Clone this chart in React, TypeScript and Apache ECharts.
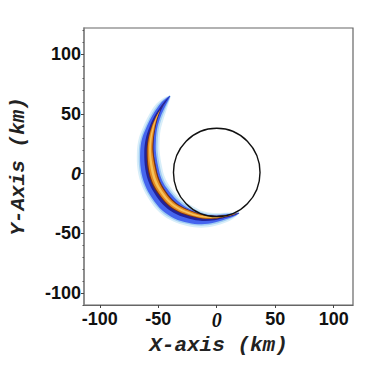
import React, { useEffect, useRef } from "react";
import * as echarts from "echarts";

// axis ticks (km)
const xTicks = [-100, -50, 0, 50, 100];
const yTicks = [-100, -50, 0, 50, 100];
const yMinorTicks = [-110, -90, -80, -70, -60, -40, -30, -20, -10, 10, 20, 30, 40, 60, 70, 80, 90, 110, 120];
const xRange = [-113.5, 116.5];
const yRange = [-110, 122];

// crescent centre line (km) and half-widths (km)
const arcX = [-40, -44, -48, -51.5, -54.5, -56.5, -57, -55.5, -52.5, -47.5, -40, -32, -22, -12, -2, 7, 13, 19];
const arcY = [65, 60, 54, 47, 38, 28, 18, 5, -6, -15, -24, -29.5, -33.5, -36, -36.5, -35.5, -34.5, -33];
const outerW = [0.3, 2, 3, 4, 5.5, 7.5, 8.5, 9.5, 9.5, 9.5, 9.5, 9, 8, 6.5, 4.5, 2.8, 1.8, 0.3];
const innerW = [0.3, 1.6, 2.5, 3, 3.5, 4.5, 5, 5.5, 5.5, 5.5, 5.5, 4.5, 3.2, 2.2, 1.7, 1.4, 1, 0.3];
const coreW = [0, 0, 0, 0.6, 1.3, 1.8, 2.1, 2.6, 2.6, 2.4, 2.2, 2, 1.7, 1.3, 0.9, 0.5, 0.2, 0];

// circle (km)
const circleCenter = [0, 1];
const circleRadius = 37;

const App: React.FC = () => {
  const ref = useRef<HTMLDivElement>(null);
  useEffect(() => {
    if (!ref.current) return;
    const chart = echarts.init(ref.current, undefined, { renderer: "svg" });
    const n = arcX.length;
    const normals = arcX.map((_, i) => {
      const a = Math.max(0, i - 1);
      const b = Math.min(n - 1, i + 1);
      const tx = arcX[b] - arcX[a];
      const ty = arcY[b] - arcY[a];
      const len = Math.hypot(tx, ty) || 1;
      return [ty / len, -tx / len];
    });
    const renderItem = (params: any, api: any) => {
      const band = (outW: number[], inW: number[]) => {
        const pts: number[][] = [];
        for (let i = 0; i < n; i++) {
          pts.push(api.coord([arcX[i] + normals[i][0] * outW[i], arcY[i] + normals[i][1] * outW[i]]));
        }
        for (let i = n - 1; i >= 0; i--) {
          pts.push(api.coord([arcX[i] - normals[i][0] * inW[i], arcY[i] - normals[i][1] * inW[i]]));
        }
        return pts;
      };
      const taper = (w: number[], add: number) => w.map((v) => v + add * Math.min(1, v / 3));
      const layers = [
        { o: taper(outerW, 2.8), i: taper(innerW, 3.2), c: "#d8eef9" },
        { o: taper(outerW, 1.2), i: taper(innerW, 1.5), c: "#a0ccf3" },
        { o: outerW, i: innerW, c: "#4565ee" },
        {
          o: outerW.map((v, k) => coreW[k] + (v - coreW[k]) * 0.45),
          i: innerW.map((v, k) => coreW[k] + (v - coreW[k]) * 0.3),
          c: "#22229a",
        },
        { o: coreW.map((v) => v * 1.4), i: coreW.map((v) => v * 1.4), c: "#7a3414" },
        { o: coreW, i: coreW, c: "#e48a22" },
        { o: coreW.map((v) => v * 0.4), i: coreW.map((v) => v * 0.4), c: "#f6c45a" },
      ];
      const children: any[] = layers.map((l) => ({
        type: "polygon",
        shape: { points: band(l.o, l.i), smooth: 0.35 },
        style: { fill: l.c },
      }));
      const c = api.coord(circleCenter);
      const r = api.size([circleRadius, circleRadius]);
      children.push({
        type: "ellipse",
        shape: { cx: c[0], cy: c[1], rx: r[0], ry: r[1] },
        style: { fill: "none", stroke: "#111", lineWidth: 1.4 },
      });
      return { type: "group", children };
    };

    const labelBase = {
      fontFamily: "Liberation Sans",
      fontWeight: "bold",
      fontSize: 18,
      color: "#111",
    };
    const nameStyle = {
      fontFamily: "Liberation Mono",
      fontWeight: "bold",
      fontStyle: "italic",
      fontSize: 21,
      color: "#222",
    };

    chart.setOption({
      animation: false,
      grid: { left: 80, top: 28, right: 21, bottom: 65, show: true, borderColor: "#666", borderWidth: 1.2 },
      xAxis: {
        type: "value",
        min: xRange[0],
        max: xRange[1],
        name: "X-axis (km)",
        nameLocation: "middle",
        nameGap: 25,
        nameTextStyle: nameStyle,
        axisLine: { show: true, onZero: false, lineStyle: { color: "#666", width: 1.2 } },
        axisTick: { show: true, customValues: xTicks, length: 3, lineStyle: { color: "#444" } },
        axisLabel: {
          customValues: xTicks,
          formatter: (v: number) => (v === 0 ? "{z|0}" : String(v)),
          margin: 5,
          ...labelBase,
          rich: {
            z: { fontFamily: "Liberation Serif", fontStyle: "italic", fontSize: 20, color: "#111", padding: [0, 0, 4, 0] },
          },
        },
        splitLine: { show: false },
      },
      yAxis: [
        {
          type: "value",
          min: yRange[0],
          max: yRange[1],
          name: "Y-Axis (km)",
          nameLocation: "middle",
          nameGap: 55,
          nameRotate: 90,
          nameTextStyle: nameStyle,
          axisLine: { show: true, onZero: false, lineStyle: { color: "#888", width: 1.5 } },
          axisTick: { show: true, customValues: yTicks, length: 3, lineStyle: { color: "#444" } },
          axisLabel: {
            customValues: yTicks,
            formatter: (v: number) => (v === 0 ? "{z|0}" : String(v)),
            margin: 3,
            ...labelBase,
            rich: {
              z: { fontFamily: "Liberation Sans", fontWeight: "bold", fontStyle: "italic", fontSize: 18, color: "#111" },
            },
          },
          splitLine: { show: false },
        },
        {
          type: "value",
          min: yRange[0],
          max: yRange[1],
          position: "left",
          offset: 0,
          axisLine: { show: false, onZero: false },
          axisTick: { show: true, customValues: yMinorTicks, length: 1.5, lineStyle: { color: "#555" } },
          axisLabel: { show: false },
          splitLine: { show: false },
        },
      ],
      series: [
        {
          type: "custom",
          coordinateSystem: "cartesian2d",
          renderItem,
          data: [[0, 0]],
          silent: true,
        },
      ],
    });
    return () => chart.dispose();
  }, []);
  return <div ref={ref} style={{ width: 374, height: 370, position: "absolute", left: 0, top: 0 }} />;
};

export default App;
